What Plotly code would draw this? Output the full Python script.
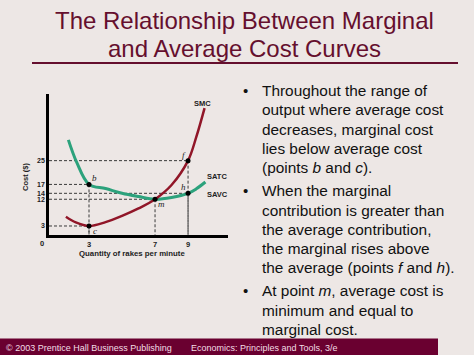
import plotly.graph_objects as go

W, H = 474, 355

# ---- data ----
smc_x = [1.6, 2.2, 3, 4, 5, 6, 7, 8, 9, 9.5, 10.0]
smc_y = [6.1, 4.2, 3, 4.3, 6.4, 8.9, 12, 16.8, 25, 33, 42.7]
satc_x = [1.75, 2.25, 3, 4, 5, 6, 7, 8, 9, 9.5, 10.05]
satc_y = [32, 24.5, 17, 15.6, 14.0, 12.9, 12.0, 12.6, 14.0, 15.5, 17.8]
point_names = ["b", "c", "m", "f", "h"]
point_x = [3, 3, 7, 9, 9]
point_y = [17, 3, 12, 25, 14]
label_shift = [(5, 6), (6, -5), (6, -5), (-4, 6), (-5, 6)]
x_ticks = [3, 7, 9]
y_ticks = [3, 12, 14, 17, 25]
curve_labels = ["SMC", "SATC", "SAVC"]

title_lines = ["The Relationship Between Marginal", "and Average Cost Curves"]
bullets = [
    ["Throughout the range of", "output where average cost", "decreases, marginal cost",
     "lies below average cost", "(points <i>b</i> and <i>c</i>)."],
    ["When the marginal", "contribution is greater than", "the average contribution,",
     "the marginal rises above", "the average (points <i>f</i> and <i>h</i>)."],
    ["At point <i>m</i>, average cost is", "minimum and equal to", "marginal cost."],
]
footer_texts = ["© 2003 Prentice Hall Business Publishing", "Economics: Principles and Tools, 3/e"]

# ---- styles ----
BG = "#ede7e5"
MAROON = "#650f2e"
RED = "#911628"
GREEN = "#2ca27c"
SANS = "Arial, Liberation Sans, sans-serif"
SERIF = "Times New Roman, Liberation Serif, serif"

XR = [0.576, 11.42]
YR = [0, 47.44]

fig = go.Figure()

# dashed guide lines
gx, gy = [], []
for px, py in zip(point_x, point_y):
    gx += [XR[0], px, None, px, px, None]
    gy += [py, py, None, py, 0, None]
fig.add_trace(go.Scatter(x=gx, y=gy, mode="lines",
                         line=dict(color="#3a3a3a", width=1, dash="3px,2px"),
                         hoverinfo="skip", showlegend=False))

fig.add_trace(go.Scatter(x=satc_x, y=satc_y, mode="lines", line_shape="spline",
                         line=dict(color=GREEN, width=3), showlegend=False))
fig.add_trace(go.Scatter(x=smc_x, y=smc_y, mode="lines", line_shape="spline",
                         line=dict(color=RED, width=2.5), showlegend=False))
fig.add_trace(go.Scatter(x=point_x, y=point_y, mode="markers",
                         marker=dict(color="black", size=5), showlegend=False))

ann = []
for n, px, py, (dx, dy) in zip(point_names, point_x, point_y, label_shift):
    ann.append(dict(x=px, y=py, xref="x", yref="y", text=f"<i>{n}</i>", showarrow=False,
                    xshift=dx, yshift=dy, font=dict(family=SERIF, size=9, color="#222")))

# curve labels
ann.append(dict(x=smc_x[-1], y=smc_y[-1], xref="x", yref="y", text="<b>SMC</b>", showarrow=False,
                xshift=-2, yshift=5, font=dict(family=SANS, size=7.5, color="#222")))
ann.append(dict(x=satc_x[-1], y=satc_y[-1], xref="x", yref="y", text="<b>SATC</b>", showarrow=False,
                xshift=12, yshift=6, font=dict(family=SANS, size=7.5, color="#222")))
ann.append(dict(x=satc_x[-1], y=point_y[-1], xref="x", yref="y", text="<b>SAVC</b>", showarrow=False,
                xshift=12, yshift=-1, font=dict(family=SANS, size=7.5, color="#222")))
ann.append(dict(x=42 / W, y=1 - 243 / H, xref="paper", yref="paper", text="<b>0</b>",
                showarrow=False, xanchor="center", yanchor="middle",
                font=dict(family=SANS, size=7.5, color="#222")))
ann.append(dict(x=25 / W, y=1 - 177 / H, xref="paper", yref="paper", text="<b>Cost ($)</b>",
                xanchor="center", yanchor="middle",
                textangle=-90, showarrow=False, font=dict(family=SANS, size=7.5, color="#222")))
ann.append(dict(x=131.5 / W, y=1 - 253 / H, xref="paper", yref="paper",
                xanchor="center", yanchor="middle",
                text="<b>Quantity of rakes per minute</b>", showarrow=False,
                font=dict(family=SANS, size=7.8, color="#222")))

# title
for i, t in enumerate(title_lines):
    ann.append(dict(x=244 / W, y=1 - (20 + 28 * i) / H, xref="paper", yref="paper", text=t,
                    showarrow=False, xanchor="center", yanchor="middle",
                    font=dict(family=SANS, size=24, color=MAROON)))

# bullets
yc = 90.7
for block in bullets:
    ann.append(dict(x=245 / W, y=1 - yc / H, xref="paper", yref="paper", text="•",
                    showarrow=False, xanchor="center", yanchor="middle",
                    font=dict(family=SANS, size=15, color="#111")))
    for line in block:
        ann.append(dict(x=260 / W, y=1 - yc / H, xref="paper", yref="paper", text=line,
                        showarrow=False, xanchor="left", yanchor="middle",
                        font=dict(family=SANS, size=15.4, color="#111")))
        yc += 19.25
    yc += 3.8

# footer
for t, xx in zip(footer_texts, [3.5, 189]):
    ann.append(dict(x=xx / W, y=1 - 347.5 / H, xref="paper", yref="paper", text=t,
                    showarrow=False, xanchor="left", yanchor="middle",
                    font=dict(family=SANS, size=9, color="#f3dde5")))

shapes = [
    dict(type="line", xref="paper", yref="paper", x0=32 / W, x1=458 / W,
         y0=1 - 63 / H, y1=1 - 63 / H, line=dict(color=MAROON, width=2)),
    dict(type="rect", xref="paper", yref="paper", x0=0, x1=438 / W, y0=0, y1=(H - 338.5) / H,
         fillcolor="#6a0030", line=dict(width=0), layer="below"),
]

fig.update_layout(
    width=W, height=H, margin=dict(l=0, r=0, t=0, b=0),
    paper_bgcolor=BG, plot_bgcolor=BG,
    annotations=ann, shapes=shapes, showlegend=False,
    xaxis=dict(domain=[49 / W, 228 / W], range=XR, showgrid=False, zeroline=False,
               showline=True, linecolor="black", linewidth=2.5,
               tickvals=x_ticks, ticktext=[f"<b>{v}</b>" for v in x_ticks], ticks="",
               tickfont=dict(family=SANS, size=7.5, color="#222")),
    yaxis=dict(domain=[(H - 234.9) / H, (H - 94) / H], range=YR, showgrid=False, zeroline=False,
               showline=True, linecolor="black", linewidth=2.5,
               tickvals=y_ticks, ticktext=[f"<b>{v}</b>" for v in y_ticks], ticks="",
               tickfont=dict(family=SANS, size=7, color="#222")),
)

fig.write_html("out.html", config={"displayModeBar": False},
               post_script="document.body.style.margin='0';document.body.style.padding='0';"
                           "document.body.style.background='" + BG + "';")
